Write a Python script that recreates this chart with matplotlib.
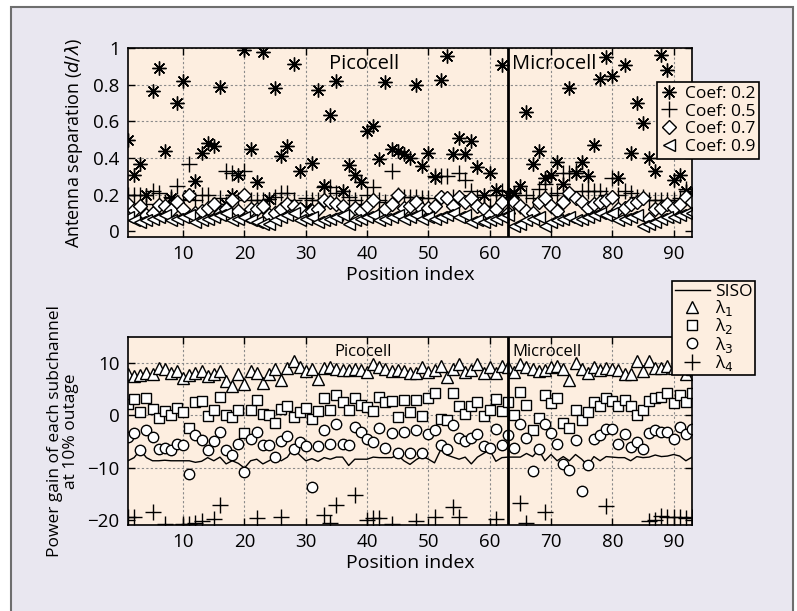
import numpy as np
import matplotlib
matplotlib.use("Agg")
import matplotlib.pyplot as plt
from matplotlib.patches import Rectangle

plt.rcParams['font.family'] = ['Open Sans', 'DejaVu Sans']
plt.rcParams['mathtext.fontset'] = 'dejavusans'

# ---- data: top panel (antenna separation d/lambda) ----
positions = list(range(1, 94))

coef_02 = [0.50, 0.31, 0.37, 0.20, 0.765, 0.89, 0.44, 0.18, 0.70, 0.82,
           0.20, 0.275, 0.43, 0.48, 0.465, 0.79, 0.15, 0.20, 0.31, 0.99,
           0.45, 0.27, 0.98, 0.175, 0.78, 0.41, 0.465, 0.915, 0.33, 0.13,
           0.375, 0.77, 0.25, 0.635, 0.82, 0.22, 0.36, 0.31, 0.27, 0.55,
           0.575, 0.395, 0.815, 0.45, 0.44, 0.42, 0.40, 0.80, 0.355, 0.43,
           0.295, 0.825, 0.955, 0.42, 0.51, 0.42, 0.495, 0.35, 0.20, 0.32,
           0.225, 0.91, 0.20, 0.21, 0.25, 0.65, 0.37, 0.44, 0.29, 0.31,
           0.38, 0.26, 0.78, 0.32, 0.38, 0.30, 0.47, 0.83, 0.95, 0.85,
           0.29, 0.91, 0.43, 0.70, 0.59, 0.40, 0.33, 0.96, 0.88, 0.28,
           0.31, 0.22, 0.20]

coef_05 = [0.20, 0.20, 0.20, 0.15, 0.22, 0.21, 0.16, 0.19, 0.25, 0.17,
           0.37, 0.17, 0.20, 0.20, 0.14, 0.18, 0.33, 0.32, 0.17, 0.33,
           0.17, 0.17, 0.17, 0.10, 0.19, 0.21, 0.21, 0.17, 0.12, 0.18,
           0.17, 0.17, 0.24, 0.24, 0.21, 0.10, 0.19, 0.17, 0.15, 0.20,
           0.24, 0.17, 0.16, 0.33, 0.20, 0.19, 0.19, 0.19, 0.18, 0.18,
           0.30, 0.30, 0.30, 0.19, 0.32, 0.28, 0.22, 0.19, 0.14, 0.14,
           0.20, 0.22, 0.22, 0.20, 0.14, 0.20, 0.18, 0.23, 0.26, 0.20,
           0.21, 0.32, 0.32, 0.33, 0.22, 0.22, 0.22, 0.22, 0.20, 0.29,
           0.20, 0.22, 0.21, 0.19, 0.19, 0.17, 0.17, 0.17, 0.17, 0.17,
           0.18, 0.23, 0.20]

coef_07 = [0.15, 0.115, 0.14, 0.09, 0.10, 0.145, 0.14, 0.115, 0.16, 0.12,
           0.20, 0.10, 0.11, 0.13, 0.15, 0.10, 0.12, 0.17, 0.11, 0.20,
           0.12, 0.12, 0.14, 0.09, 0.10, 0.12, 0.15, 0.14, 0.12, 0.09,
           0.11, 0.12, 0.17, 0.16, 0.15, 0.14, 0.10, 0.13, 0.11, 0.14,
           0.17, 0.09, 0.12, 0.15, 0.20, 0.13, 0.14, 0.16, 0.12, 0.13,
           0.14, 0.19, 0.18, 0.14, 0.19, 0.16, 0.18, 0.14, 0.12, 0.09,
           0.12, 0.16, 0.10, 0.16, 0.14, 0.11, 0.10, 0.16, 0.18, 0.14,
           0.11, 0.16, 0.21, 0.18, 0.16, 0.13, 0.15, 0.16, 0.17, 0.19,
           0.12, 0.13, 0.15, 0.16, 0.18, 0.07, 0.12, 0.13, 0.15, 0.13,
           0.15, 0.19, 0.16]

coef_09 = [0.08, 0.06, 0.05, 0.06, 0.07, 0.08, 0.09, 0.06, 0.07, 0.08,
           0.09, 0.05, 0.06, 0.07, 0.08, 0.09, 0.10, 0.06, 0.07, 0.08,
           0.06, 0.05, 0.04, 0.04, 0.06, 0.08, 0.09, 0.10, 0.06, 0.07,
           0.08, 0.05, 0.06, 0.07, 0.08, 0.09, 0.04, 0.06, 0.07, 0.08,
           0.09, 0.06, 0.07, 0.08, 0.09, 0.07, 0.08, 0.09, 0.07, 0.08,
           0.07, 0.08, 0.09, 0.10, 0.08, 0.09, 0.05, 0.06, 0.05, 0.06,
           0.07, 0.08, 0.09, 0.03, 0.04, 0.06, 0.07, 0.08, 0.03, 0.05,
           0.06, 0.07, 0.08, 0.06, 0.07, 0.08, 0.09, 0.10, 0.09, 0.10,
           0.06, 0.07, 0.08, 0.09, 0.03, 0.04, 0.05, 0.07, 0.08, 0.08,
           0.09, 0.10, 0.10]

# ---- data: bottom panel (power gain, dB) ----
siso = [-8.7, -8.1, -6.6, -8.1, -8.7, -8.7, -8.6, -8.7, -8.7, -8.7,
        -8.7, -9.0, -8.8, -8.1, -8.7, -8.0, -9.3, -8.7, -9.2, -10.1,
        -8.7, -8.4, -9.3, -8.7, -8.0, -8.7, -8.0, -6.3, -7.6, -8.7,
        -8.3, -8.8, -8.1, -8.4, -8.0, -8.0, -9.6, -8.4, -8.4, -8.4,
        -8.0, -8.1, -8.1, -8.1, -7.6, -8.7, -9.4, -8.5, -7.8, -8.4,
        -9.1, -6.6, -7.6, -8.0, -8.4, -8.0, -9.3, -8.0, -7.3, -6.6,
        -8.8, -8.1, -8.0, -8.0, -8.0, -7.3, -7.9, -6.6, -8.7, -7.5,
        -8.7, -7.9, -8.7, -7.5, -8.4, -9.6, -7.9, -8.7, -7.9, -8.0,
        -8.1, -8.1, -8.7, -7.9, -8.1, -8.0, -7.6, -7.9, -7.8, -7.5,
        -7.8, -8.7, -8.0]

lambda_1 = [8.0, 7.5, 7.8, 8.2, 7.9, 9.0, 8.8, 8.2, 8.5, 7.2,
            7.8, 8.1, 8.5, 7.5, 7.9, 8.5, 6.5, 5.6, 8.0, 6.0,
            8.4, 8.2, 6.2, 7.9, 8.8, 6.8, 9.0, 10.5, 9.3, 8.5,
            8.9, 7.0, 9.0, 9.3, 8.9, 8.6, 8.6, 8.9, 8.7, 8.3,
            9.9, 9.2, 8.8, 8.5, 8.7, 8.5, 8.2, 8.1, 9.2, 8.3,
            8.7, 9.5, 7.4, 8.9, 9.9, 8.3, 8.7, 9.8, 8.2, 9.2,
            8.1, 9.5, 9.3, 8.3, 9.8, 9.2, 8.8, 8.5, 8.6, 9.2,
            9.4, 8.8, 6.8, 10.0, 8.8, 8.2, 9.3, 8.6, 9.0, 8.9,
            8.6, 8.0, 7.9, 10.4, 8.5, 10.5, 9.1, 9.0, 9.5, 9.0,
            9.2, 7.9, 8.8]

lambda_2 = [2.2, 3.1, 0.6, 3.3, 1.2, -0.6, 0.8, 0.0, 1.4, 0.6,
            -2.4, 2.5, 2.8, -0.2, 1.0, 3.6, 0.0, -0.3, 1.1, -3.4,
            1.1, 3.0, 0.2, 0.0, -1.5, 1.3, 1.7, -0.4, 0.6, 1.4,
            -0.7, 0.9, 3.3, 1.0, 3.9, 2.5, 1.1, 3.3, 2.0, 1.6,
            0.8, 3.5, 2.6, 2.8, -0.4, 3.0, 0.6, 3.0, -0.2, 3.3,
            4.2, -0.7, -0.8, 4.2, 1.7, 0.2, 1.8, 2.6, -0.2, 1.0,
            3.1, 0.8, 2.6, 0.0, 4.5, 2.0, -2.8, -0.5, 3.8, 2.4,
            3.3, -1.4, -2.5, 1.1, -0.8, 0.7, 2.5, 1.7, 3.3, 2.8,
            1.8, 2.9, 1.7, 0.1, 1.1, 2.8, 3.3, 3.5, 4.2, 2.4,
            3.8, 2.6, 4.2]

lambda_3 = [-4.2, -3.4, -6.6, -2.8, -4.1, -6.4, -6.3, -6.6, -5.5, -5.6,
            -11.2, -3.8, -4.7, -6.6, -4.9, -3.1, -6.6, -7.6, -5.5, -10.8,
            -4.6, -3.1, -5.6, -5.6, -7.9, -4.9, -4.0, -6.4, -5.1, -5.8,
            -13.7, -5.9, -2.9, -5.5, -1.7, -5.5, -5.6, -2.3, -3.2, -4.6,
            -5.2, -2.5, -6.2, -3.3, -7.3, -3.2, -7.3, -2.8, -7.3, -3.5,
            -2.9, -5.6, -6.4, -1.9, -4.4, -4.9, -4.3, -3.5, -5.9, -6.2,
            -2.7, -5.6, -3.8, -6.3, -1.7, -4.3, -10.7, -6.4, -1.7, -3.3,
            -5.4, -9.4, -10.4, -4.7, -14.5, -9.5, -4.5, -3.8, -2.6, -2.6,
            -5.4, -3.6, -6.1, -5.2, -6.4, -3.4, -2.8, -3.1, -3.1, -4.6,
            -2.2, -3.6, -2.6]

# lambda_4 mostly below the plotted range; only the visible ones are kept
lambda_4_pos = [1, 2, 5, 7, 10, 11, 12, 13, 15, 16, 22, 26, 33, 34, 35, 38,
                40, 41, 42, 44, 48, 51, 54, 55, 61, 65, 66, 69, 79, 86, 87,
                88, 89, 90, 91, 92, 93]
lambda_4 = [-19.4, -19.4, -18.5, -20.8, -20.8, -20.8, -20.7, -20.3, -19.9, -17.1,
            -19.7, -19.5, -19.0, -20.6, -17.1, -15.3, -20.0, -19.6, -19.6, -20.8,
            -20.2, -19.5, -17.5, -19.5, -19.8, -16.8, -20.6, -18.6, -17.3, -20.2,
            -20.0, -19.3, -19.4, -19.4, -19.5, -19.6, -19.5]

split_pos = 63
ax_bg = '#fdeee0'
fig_bg = '#e9e7f0'

fig = plt.figure(figsize=(7.97, 6.11), dpi=100, facecolor='white')
fig.patches.append(Rectangle((11 / 797, -0.01), (793 - 11) / 797, 1 - 7 / 611 + 0.01,
                             transform=fig.transFigure, facecolor=fig_bg,
                             edgecolor='#6e6e6e', linewidth=1.5, zorder=-10))

ax1 = fig.add_axes([128 / 797, 1 - 237 / 611, 564 / 797, 189 / 611])
ax2 = fig.add_axes([128 / 797, 1 - 525 / 611, 564 / 797, 188 / 611])

grid_kw = dict(color='#8a8a8a', linestyle=(0, (2, 2)), linewidth=0.8)

for ax in (ax1, ax2):
    ax.set_facecolor(ax_bg)
    ax.set_axisbelow(True)
    ax.set_xlim(1, 93)
    ax.set_xticks([10, 20, 30, 40, 50, 60, 70, 80, 90])
    ax.tick_params(direction='in', top=True, right=True, length=5, width=1,
                   labelsize=13.5, pad=6)
    for sp in ax.spines.values():
        sp.set_linewidth(1.2)
    ax.grid(True, **grid_kw)
    ax.axvline(split_pos, color='black', linewidth=2, zorder=5)
    ax.set_xlabel('Position index', fontsize=14, labelpad=2)

# ---- top panel ----
ax1.plot(positions, coef_02, linestyle='none', marker=(8, 2, 0), markersize=10,
         markeredgewidth=1.0, color='black', label='Coef: 0.2')
ax1.plot(positions, coef_05, linestyle='none', marker='+', markersize=11,
         markeredgewidth=1.0, color='black', label='Coef: 0.5')
ax1.plot(positions, coef_07, linestyle='none', marker='D', markersize=7.5,
         markeredgewidth=1.0, markerfacecolor='white', markeredgecolor='black',
         label='Coef: 0.7')
ax1.plot(positions, coef_09, linestyle='none', marker='<', markersize=9,
         markeredgewidth=1.0, markerfacecolor='white', markeredgecolor='black',
         label='Coef: 0.9')
ax1.set_ylim(-0.03, 1.0)
ax1.set_yticks([0, 0.2, 0.4, 0.6, 0.8, 1])
ax1.set_yticklabels(['0', '0.2', '0.4', '0.6', '0.8', '1'])
ax1.get_ygridlines()[0].set_visible(False)
ax1.set_ylabel('Antenna separation ($d/\\lambda$)', fontsize=13, labelpad=6)
ax1.text(39.5, 0.915, 'Picocell', fontsize=14.5, ha='center', va='center')
ax1.text(63.6, 0.915, 'Microcell', fontsize=14.5, ha='left', va='center')
leg1 = ax1.legend(loc='upper right', bbox_to_anchor=(759 / 797, 1 - 82 / 611),
                  bbox_transform=fig.transFigure, fontsize=12.5, frameon=True,
                  fancybox=False, edgecolor='black', facecolor=ax_bg, framealpha=1,
                  handlelength=1.0, handletextpad=0.4, borderpad=0.2,
                  labelspacing=0.1, borderaxespad=0)
leg1.get_frame().set_linewidth(1.2)
leg1.set_zorder(10)

# ---- bottom panel ----
ax2.plot(positions, siso, color='black', linewidth=1.0, label='SISO')
ax2.plot(positions, lambda_1, linestyle='none', marker='^', markersize=8,
         markeredgewidth=1.0, markerfacecolor='white', markeredgecolor='black',
         label='λ$_1$')
ax2.plot(positions, lambda_2, linestyle='none', marker='s', markersize=7.5,
         markeredgewidth=1.0, markerfacecolor='white', markeredgecolor='black',
         label='λ$_2$')
ax2.plot(positions, lambda_3, linestyle='none', marker='o', markersize=7.5,
         markeredgewidth=1.0, markerfacecolor='white', markeredgecolor='black',
         label='λ$_3$')
ax2.plot(lambda_4_pos, lambda_4, linestyle='none', marker='+', markersize=11,
         markeredgewidth=1.0, color='black', label='λ$_4$')
ax2.set_ylim(-21, 15)
ax2.set_yticks([-20, -10, 0, 10])
ax2.get_ygridlines()[0].set_visible(False)
ax2.set_ylabel('Power gain of each subchannel\nat 10% outage', fontsize=12.5,
               labelpad=6, linespacing=1.0)
ax2.text(39.3, 12.2, 'Picocell', fontsize=12, ha='center', va='center')
ax2.text(63.7, 12.2, 'Microcell', fontsize=12, ha='left', va='center')
leg2 = ax2.legend(loc='upper right', bbox_to_anchor=(755 / 797, 1 - 281 / 611),
                  bbox_transform=fig.transFigure, fontsize=12.5, frameon=True,
                  fancybox=False, edgecolor='black', facecolor=ax_bg, framealpha=1,
                  handlelength=2.0, handletextpad=0.3, borderpad=0.15,
                  labelspacing=-0.1, borderaxespad=0)
leg2.get_frame().set_linewidth(1.2)
leg2.set_zorder(10)

fig.savefig('out.png', dpi=100, facecolor='white')
